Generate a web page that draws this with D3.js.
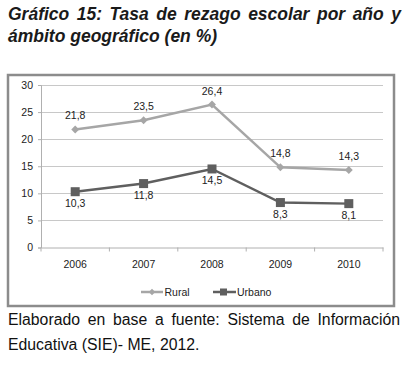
<!DOCTYPE html>
<html><head><meta charset="utf-8">
<script src="https://cdn.jsdelivr.net/npm/d3@7"></script>
<style>html,body{margin:0;padding:0;background:#fff;}svg{display:block;}</style>
</head><body>
<script>
const years = ["2006","2007","2008","2009","2010"];
const rural = [21.8, 23.5, 26.4, 14.8, 14.3];
const urbano = [10.3, 11.8, 14.5, 8.3, 8.1];
const yTicks = [0,5,10,15,20,25,30];
const seriesNames = ["Rural","Urbano"];
const titleLines = ["Gráfico 15: Tasa de rezago escolar por año y", "ámbito geográfico (en %)"];
const footerLines = ["Elaborado en base a fuente: Sistema de Información", "Educativa (SIE)- ME, 2012."];

const W = 409, H = 365;
const svg = d3.select("body").append("svg").attr("width", W).attr("height", H);
const font = "Liberation Sans, Arial, sans-serif";

function justifyLine(g, text, x0, x1, y, style, justify) {
  const words = text.split(" ");
  const tmp = g.append("g");
  const widths = words.map(w => {
    const t = tmp.append("text").attr("style", style).text(w);
    const wd = t.node().getComputedTextLength(); return wd;
  });
  const sp = tmp.append("text").attr("style", style).text("a a");
  const sa = tmp.append("text").attr("style", style).text("aa");
  const spaceW = sp.node().getComputedTextLength() - sa.node().getComputedTextLength();
  tmp.remove();
  const total = d3.sum(widths);
  const gap = justify ? (x1 - x0 - total) / (words.length - 1) : spaceW;
  let x = x0;
  words.forEach((w, i) => {
    g.append("text").attr("x", x).attr("y", y).attr("style", style).text(w);
    x += widths[i] + gap;
  });
}

// Title
const titleStyle = `font-family:${font};font-weight:bold;font-style:italic;font-size:17.5px;fill:#1a1a1a`;
const tg = svg.append("g");
justifyLine(tg, titleLines[0], 8, 401, 20, titleStyle, true);
justifyLine(tg, titleLines[1], 8, 401, 42, titleStyle, false);

// Chart frame
svg.append("rect").attr("x", 8).attr("y", 75).attr("width", 386).attr("height", 231)
  .attr("fill", "#fff").attr("stroke", "#8c8c8c").attr("stroke-width", 2.5);

const x = d3.scaleBand().domain(years).range([41, 383]);
const y = d3.scaleLinear().domain([0, 30]).range([247.5, 85]);
const cx = d => x(d) + x.bandwidth() / 2;

// gridlines
svg.append("g").selectAll("line").data(yTicks.filter(d => d > 0)).join("line")
  .attr("x1", 41).attr("x2", 383).attr("y1", d => y(d)).attr("y2", d => y(d))
  .attr("stroke", "#c8c8c8").attr("stroke-width", 1).attr("shape-rendering", "crispEdges");

// y axis
const yAxis = svg.append("g").attr("transform", "translate(41,0)")
  .call(d3.axisLeft(y).tickValues(yTicks).tickSize(3).tickPadding(5));
yAxis.select(".domain").attr("stroke", "#b0b0b0");
yAxis.selectAll(".tick line").attr("stroke", "#b0b0b0");
yAxis.selectAll("text").attr("font-family", font).attr("font-size", 10.5).attr("fill", "#222");

// x axis
const xAxis = svg.append("g").attr("transform", `translate(0,${y(0)})`)
  .call(d3.axisBottom(x).tickSize(0).tickPadding(13));
xAxis.select(".domain").attr("stroke", "#b0b0b0");
xAxis.selectAll("text").attr("font-family", font).attr("font-size", 10.5).attr("fill", "#222");
// band boundary tick marks
const bounds = years.map(d => x(d)).concat([x(years[years.length - 1]) + x.bandwidth()]);
svg.append("g").selectAll("line").data(bounds).join("line")
  .attr("x1", d => d).attr("x2", d => d).attr("y1", y(0)).attr("y2", y(0) + 4)
  .attr("stroke", "#b0b0b0");

const line = d3.line().x((d, i) => cx(years[i])).y(d => y(d));
const ruralColor = "#a6a6a6", urbColor = "#5f5f5f";

svg.append("path").datum(rural).attr("d", line).attr("fill", "none")
  .attr("stroke", ruralColor).attr("stroke-width", 2.5);
svg.append("path").datum(urbano).attr("d", line).attr("fill", "none")
  .attr("stroke", urbColor).attr("stroke-width", 2.5);

const diamond = d3.symbol().type(d3.symbolDiamond2).size(40);
svg.append("g").selectAll("path").data(rural).join("path")
  .attr("d", diamond).attr("transform", (d, i) => `translate(${cx(years[i])},${y(d)})`)
  .attr("fill", ruralColor);
svg.append("g").selectAll("rect").data(urbano).join("rect")
  .attr("x", (d, i) => cx(years[i]) - 4.5).attr("y", d => y(d) - 4.5)
  .attr("width", 9).attr("height", 9).attr("fill", urbColor);

const fmt = v => d3.format(".1f")(v).replace(".", ",");
svg.append("g").selectAll("text").data(rural).join("text")
  .attr("x", (d, i) => cx(years[i])).attr("y", d => y(d) - 10)
  .attr("text-anchor", "middle").attr("font-family", font).attr("font-size", 10.5).attr("fill", "#222")
  .text(fmt);
svg.append("g").selectAll("text").data(urbano).join("text")
  .attr("x", (d, i) => cx(years[i])).attr("y", d => y(d) + 15)
  .attr("text-anchor", "middle").attr("font-family", font).attr("font-size", 10.5).attr("fill", "#222")
  .text(fmt);

// Legend
const lg = svg.append("g");
const ly = 292;
lg.append("line").attr("x1", 141).attr("x2", 163).attr("y1", ly).attr("y2", ly)
  .attr("stroke", ruralColor).attr("stroke-width", 2.5);
lg.append("path").attr("d", d3.symbol().type(d3.symbolDiamond2).size(28))
  .attr("transform", `translate(152,${ly})`).attr("fill", ruralColor);
lg.append("text").attr("x", 164.5).attr("y", ly + 4).attr("font-family", font).attr("font-size", 10.5)
  .attr("fill", "#222").text(seriesNames[0]);
lg.append("line").attr("x1", 213).attr("x2", 236).attr("y1", ly).attr("y2", ly)
  .attr("stroke", urbColor).attr("stroke-width", 2.5);
lg.append("rect").attr("x", 220).attr("y", ly - 3.5).attr("width", 7).attr("height", 7).attr("fill", urbColor);
lg.append("text").attr("x", 237).attr("y", ly + 4).attr("font-family", font).attr("font-size", 10.5)
  .attr("fill", "#222").text(seriesNames[1]);

// Footer
const footStyle = `font-family:${font};font-size:15.8px;fill:#111`;
const fg = svg.append("g");
justifyLine(fg, footerLines[0], 8, 400, 325, footStyle, true);
justifyLine(fg, footerLines[1], 8, 400, 350, footStyle, false);
</script>
</body></html>
